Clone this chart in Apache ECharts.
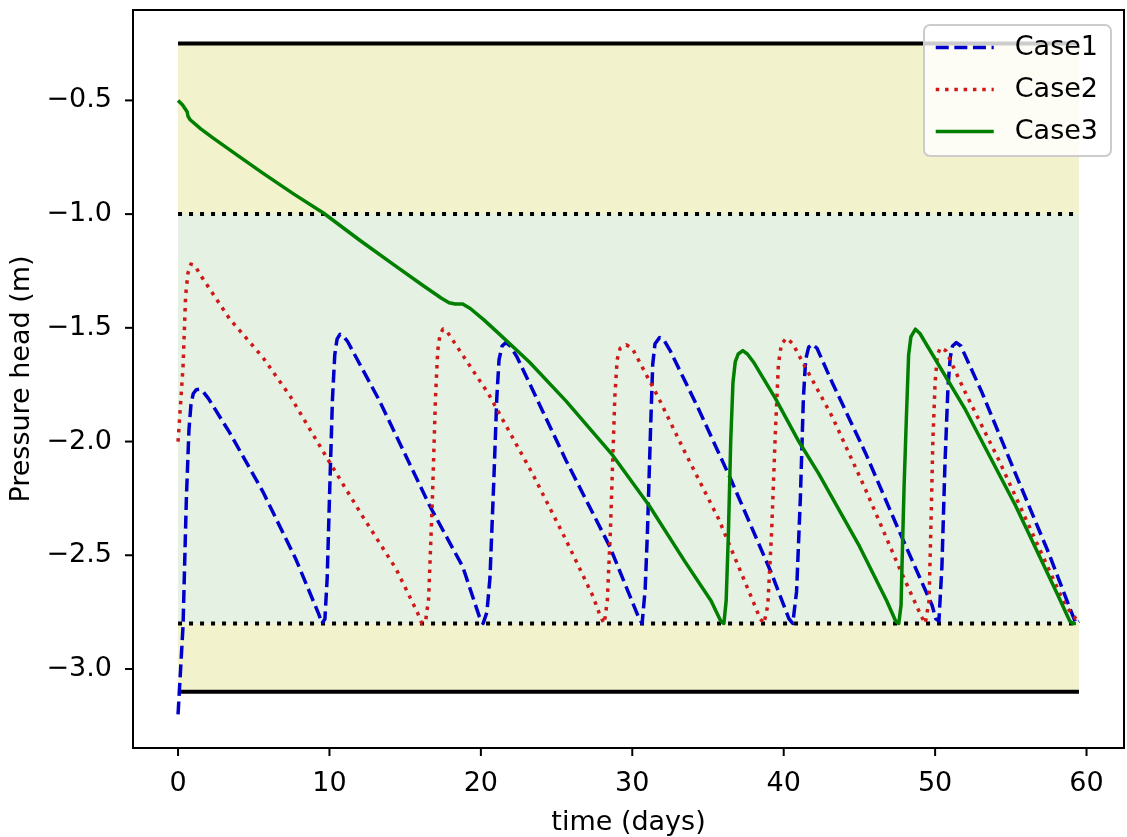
<!DOCTYPE html>
<html>
<head>
<meta charset="utf-8">
<script src="https://cdn.jsdelivr.net/npm/echarts@6/dist/echarts.min.js"></script>
<style>
html,body{margin:0;padding:0;background:#fff;}
#chart{width:1127px;height:837px;}
</style>
</head>
<body>
<div id="chart"></div>
<script>
// ---- data ----
const xTicks = [0, 10, 20, 30, 40, 50, 60];
const yTicks = [-3.0, -2.5, -2.0, -1.5, -1.0, -0.5];
const tStart = 0, tEnd = 59.5;
const upperLimit = -0.25, upperThreshold = -1.0, lowerThreshold = -2.8, lowerLimit = -3.1;

const case1 = [[0,-3.2],[0.33,-2.81],[0.55,-2.25],[0.72,-1.95],[0.85,-1.84],[1.0,-1.79],[1.2,-1.772],[1.4,-1.77],[1.65,-1.78],[2.0,-1.81],[3.4,-1.96],[5.6,-2.22],[7.8,-2.52],[9.3,-2.76],[9.5,-2.8],[9.7,-2.78],[9.85,-2.6],[10.0,-2.25],[10.2,-1.81],[10.35,-1.62],[10.5,-1.55],[10.7,-1.528],[10.9,-1.535],[11.2,-1.56],[11.6,-1.61],[13.3,-1.82],[16.6,-2.28],[18.8,-2.55],[19.9,-2.77],[20.15,-2.8],[20.4,-2.75],[20.6,-2.6],[20.85,-2.18],[21.05,-1.81],[21.2,-1.64],[21.4,-1.58],[21.65,-1.565],[21.95,-1.58],[22.4,-1.63],[25.6,-2.08],[28.5,-2.46],[30.4,-2.77],[30.65,-2.8],[30.85,-2.65],[31.0,-2.4],[31.2,-1.96],[31.35,-1.66],[31.5,-1.57],[31.8,-1.543],[32.1,-1.555],[32.5,-1.6],[34.4,-1.86],[36.6,-2.18],[39.2,-2.58],[40.35,-2.78],[40.6,-2.8],[40.85,-2.66],[41.1,-2.25],[41.3,-1.81],[41.45,-1.64],[41.65,-1.585],[41.9,-1.572],[42.2,-1.59],[43.2,-1.74],[45.4,-2.05],[47.6,-2.39],[49.8,-2.72],[50.05,-2.78],[50.25,-2.79],[50.45,-2.55],[50.65,-2.1],[50.85,-1.76],[51.0,-1.63],[51.15,-1.58],[51.4,-1.565],[51.7,-1.58],[53.1,-1.785],[55.3,-2.14],[57.5,-2.49],[59.0,-2.75],[59.3,-2.8],[59.5,-2.79]];

const case2 = [[0,-2.0],[0.1,-1.9],[0.33,-1.67],[0.5,-1.36],[0.65,-1.26],[0.85,-1.22],[1.1,-1.225],[1.5,-1.27],[3.4,-1.46],[5.6,-1.63],[7.4,-1.8],[10.0,-2.09],[12.2,-2.33],[14.4,-2.56],[15.8,-2.75],[16.1,-2.8],[16.35,-2.79],[16.55,-2.69],[16.8,-2.25],[17.0,-1.81],[17.15,-1.6],[17.3,-1.53],[17.5,-1.505],[17.8,-1.52],[18.8,-1.62],[20.5,-1.79],[23.4,-2.14],[25.6,-2.43],[27.4,-2.68],[27.9,-2.77],[28.15,-2.8],[28.35,-2.7],[28.55,-2.4],[28.7,-2.1],[28.85,-1.8],[29.0,-1.64],[29.2,-1.59],[29.6,-1.575],[30.0,-1.59],[31.75,-1.81],[33.5,-2.05],[35.7,-2.34],[37.9,-2.69],[38.45,-2.78],[38.7,-2.8],[38.95,-2.72],[39.2,-2.4],[39.45,-1.96],[39.65,-1.66],[39.85,-1.57],[40.2,-1.545],[40.6,-1.57],[41.0,-1.62],[43.2,-1.89],[45.4,-2.21],[47.6,-2.55],[49.1,-2.77],[49.35,-2.8],[49.6,-2.7],[49.75,-2.3],[49.85,-2.0],[50.0,-1.74],[50.15,-1.62],[50.35,-1.587],[50.7,-1.6],[52.0,-1.785],[54.2,-2.08],[56.4,-2.4],[58.6,-2.72],[59.3,-2.78],[59.5,-2.78]];

const case3 = [[0,-0.5],[0.3,-0.52],[0.6,-0.55],[0.66,-0.57],[0.8,-0.585],[1.5,-0.625],[2.3,-0.665],[4.0,-0.745],[5.6,-0.82],[7.6,-0.91],[9.6,-0.995],[12.0,-1.115],[14.4,-1.23],[16.2,-1.315],[17.4,-1.37],[17.9,-1.39],[18.3,-1.395],[18.8,-1.395],[19.3,-1.415],[20.2,-1.465],[21.1,-1.52],[23.2,-1.65],[25.6,-1.82],[28.7,-2.06],[31.1,-2.28],[33.5,-2.53],[35.2,-2.7],[35.85,-2.79],[36.05,-2.8],[36.2,-2.7],[36.35,-2.4],[36.5,-2.0],[36.65,-1.74],[36.8,-1.65],[37.0,-1.615],[37.3,-1.6],[37.6,-1.615],[38.0,-1.65],[39.45,-1.81],[41.0,-2.0],[42.3,-2.14],[45.0,-2.46],[46.8,-2.7],[47.4,-2.79],[47.6,-2.8],[47.75,-2.72],[47.85,-2.45],[47.95,-2.2],[48.1,-1.9],[48.25,-1.62],[48.4,-1.54],[48.7,-1.506],[49.0,-1.525],[49.4,-1.57],[52.0,-1.86],[55.3,-2.28],[58.0,-2.66],[58.9,-2.79],[59.1,-2.8],[59.3,-2.8]];

// ---- chart ----
const FONT = 'DejaVu Sans';
const FS = 27;
const TICK = 8;
const X_MIN = -2.975, X_MAX = 62.475, Y_MIN = -3.3475, Y_MAX = -0.1025;

const chart = echarts.init(document.getElementById('chart'), null, {renderer:'canvas'});
const fmtY = v => (v < 0 ? '\u2212' : '') + Math.abs(v).toFixed(1);
const hline = (y) => [[tStart, y], [tEnd, y]];
const spine = {show: true, onZero: false, lineStyle: {color: '#000', width: 2}};

// outward tick marks placed through the axis scale (api.coord)
const tickRender = (dir) => (params, api) => {
  const p = api.coord([api.value(0), api.value(1)]);
  const shape = dir === 'x'
    ? {x1: p[0], y1: p[1], x2: p[0], y2: p[1] + TICK}
    : {x1: p[0] - TICK, y1: p[1], x2: p[0], y2: p[1]};
  return {type: 'line', shape: shape, style: {stroke: '#000', lineWidth: 2}};
};

const option = {
  animation: false,
  backgroundColor: '#ffffff',
  textStyle: {fontFamily: FONT},
  grid: {left: 133, right: 3, top: 10, bottom: 89, containLabel: false, outerBoundsMode: 'none',
         show: true, borderColor: '#000', borderWidth: 2, backgroundColor: 'transparent'},
  xAxis: {
    type: 'value', min: X_MIN, max: X_MAX,
    name: 'time (days)', nameLocation: 'middle', nameGap: 61,
    nameTextStyle: {fontFamily: FONT, fontSize: FS, color: '#000'},
    axisLine: spine, axisTick: {show: false}, splitLine: {show: false},
    axisLabel: {show: true, customValues: xTicks, margin: 22, fontFamily: FONT, fontSize: FS, color: '#000'}
  },
  yAxis: {
    type: 'value', min: Y_MIN, max: Y_MAX,
    name: 'Pressure head (m)', nameLocation: 'middle', nameGap: 97, nameRotate: 90,
    nameTextStyle: {fontFamily: FONT, fontSize: FS, color: '#000'},
    axisLine: spine, axisTick: {show: false}, splitLine: {show: false},
    axisLabel: {show: true, customValues: yTicks, margin: 21, fontFamily: FONT, fontSize: FS, color: '#000', formatter: fmtY}
  },
  legend: {
    orient: 'vertical', right: 16, top: 25,
    data: ['Case1', 'Case2', 'Case3'],
    itemWidth: 58, itemHeight: 20, itemGap: 15,
    padding: [9, 13, 11, 10],
    backgroundColor: 'rgba(255,255,255,0.8)',
    borderColor: '#cccccc', borderWidth: 2, borderRadius: 6,
    itemStyle: {opacity: 0},
    lineStyle: {width: 3.5, type: 'inherit', cap: 'butt'},
    textStyle: {fontFamily: FONT, fontSize: FS, color: '#000', padding: [0, 0, 0, 16]}
  },
  series: [
    {
      type: 'line', name: 'bands', data: [], silent: true, z: 0,
      markArea: {
        silent: true,
        data: [
          [{coord: [tStart, upperLimit], itemStyle: {color: '#f2f2cc'}}, {coord: [tEnd, upperThreshold]}],
          [{coord: [tStart, upperThreshold], itemStyle: {color: '#e5f1e3'}}, {coord: [tEnd, lowerThreshold]}],
          [{coord: [tStart, lowerThreshold], itemStyle: {color: '#f2f2cc'}}, {coord: [tEnd, lowerLimit]}]
        ]
      }
    },
    {type: 'line', name: 'limitTop', data: hline(upperLimit), symbol: 'none', silent: true, z: 1,
     lineStyle: {color: '#000', width: 4, type: 'solid'}},
    {type: 'line', name: 'limitBottom', data: hline(lowerLimit), symbol: 'none', silent: true, z: 1,
     lineStyle: {color: '#000', width: 4, type: 'solid'}},
    {type: 'line', name: 'thrTop', data: hline(upperThreshold), symbol: 'none', silent: true, z: 1,
     lineStyle: {color: '#000', width: 4, type: [4, 7], cap: 'butt'}},
    {type: 'line', name: 'thrBottom', data: hline(lowerThreshold), symbol: 'none', silent: true, z: 1,
     lineStyle: {color: '#000', width: 4, type: [4, 7], cap: 'butt'}},
    {type: 'line', name: 'Case1', data: case1, symbol: 'none', showSymbol: false, smooth: false, z: 3,
     itemStyle: {color: '#0000cc'},
     lineStyle: {color: '#0000cc', width: 3.5, type: [13, 5.6], cap: 'butt', join: 'round'}},
    {type: 'line', name: 'Case2', data: case2, symbol: 'none', showSymbol: false, smooth: false, z: 4,
     itemStyle: {color: '#d01818'},
     lineStyle: {color: '#d01818', width: 3.5, type: [3.5, 5.8], cap: 'butt', join: 'round'}},
    {type: 'line', name: 'Case3', data: case3, symbol: 'none', showSymbol: false, smooth: false, z: 5,
     itemStyle: {color: '#007f00'},
     lineStyle: {color: '#007f00', width: 3.5, type: 'solid', join: 'round'}},
    {type: 'custom', name: 'xTickMarks', silent: true, clip: false, z: 6,
     data: xTicks.map(t => [t, Y_MIN]), renderItem: tickRender('x')},
    {type: 'custom', name: 'yTickMarks', silent: true, clip: false, z: 6,
     data: yTicks.map(v => [X_MIN, v]), renderItem: tickRender('y')}
  ]
};
chart.setOption(option);
</script>
</body>
</html>
